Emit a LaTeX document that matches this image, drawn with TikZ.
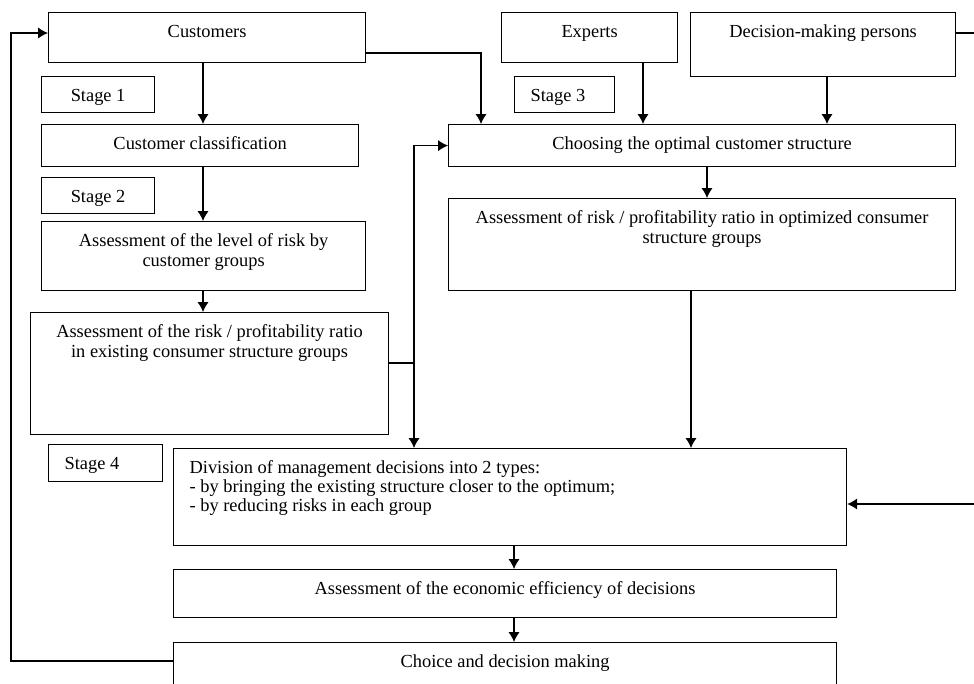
\documentclass[tikz,border=0pt]{standalone}
\usepackage{fontspec}
\setmainfont{Liberation Serif}
\usetikzlibrary{arrows.meta}
\tikzset{>={Latex[width=8.5pt,length=7.5pt]}}
\newlength{\pxu}
\setlength{\pxu}{0.75pt}
\newcommand{\boxtext}[4][\centering]{\parbox[t][#3\pxu][t]{#2\pxu}{#1\rule{0pt}{19pt}#4}}

\begin{document}
\begin{tikzpicture}[
    x = 0.75pt, y = -0.75pt,
    line width = 0.9pt,
    font = \fontsize{13.8}{15}\selectfont,
    box/.style = {draw, inner sep=0pt, anchor=north west}
  ]
  \useasboundingbox (0,0) rectangle (974,683);
  \clip (0,0) rectangle (974,683);

  % stages 1 and 2
  \node[box] (cust) at (48,12) {\boxtext{317}{50}{Customers}};
  \node[box] (st1) at (41,76) {\boxtext{113}{36}{Stage 1}};
  \node[box] (class) at (41,124) {\boxtext{317}{42}{Customer classification}};
  \node[box] (st2) at (41,177) {\boxtext{113}{36}{Stage 2}};
  \node[box] (level) at (41,221) {\boxtext{324}{69}{Assessment of the level of risk by\\customer groups}};
  \node[box] (exist) at (30,312) {\boxtext{358}{122}{Assessment of the risk / profitability ratio\\in existing consumer structure groups}};

  % stage 3
  \node[box] (exp) at (501,12) {\boxtext{176}{50}{Experts}};
  \node[box] (dm) at (690,12) {\boxtext{265}{64}{Decision-making persons}};
  \node[box] (st3) at (514,76) {\boxtext[\raggedright\leftskip=12pt]{100}{36}{Stage 3}};
  \node[box] (choose) at (448,124) {\boxtext{507}{42}{Choosing the optimal customer structure}};
  \node[box] (opt) at (448,198) {\boxtext{507}{92}{Assessment of risk / profitability ratio in optimized consumer\\structure groups}};

  % stage 4
  \node[box] (st4) at (48,444) {\boxtext[\raggedright\leftskip=12pt]{114}{37}{Stage 4}};
  \node[box] (div) at (173,448) {\boxtext[\raggedright\leftskip=12pt\baselineskip=14.2pt]{673}{97}{Division of management decisions into 2 types:\\- by bringing the existing structure closer to the optimum;\\- by reducing risks in each group}};
  \node[box] (eff) at (173,569) {\boxtext{663}{48}{Assessment of the economic efficiency of decisions}};
  \node[box] (choice) at (173,642) {\boxtext{663}{70}{Choice and decision making}};

  % connectors
  \coordinate (a) at (203,0);
  \coordinate (e) at (643,0);
  \coordinate (d) at (827,0);
  \coordinate (o) at (707,0);
  \coordinate (p) at (691,0);
  \coordinate (m) at (514,0);
  \coordinate (c1) at (481,53);
  \coordinate (j) at (414,363);
  \coordinate (r1) at (995,33);
  \coordinate (r2) at (995,504);
  \coordinate (l1) at (11,33);
  \coordinate (l2) at (11,661);

  \draw[->] (a |- cust.south) -- (a |- class.north);
  \draw[->] (a |- class.south) -- (a |- level.north);
  \draw[->] (a |- level.south) -- (a |- exist.north);
  \draw[->] (cust.east |- c1) -- (c1) -- (c1 |- choose.north);
  \draw[->] (e |- exp.south) -- (e |- choose.north);
  \draw[->] (d |- dm.south) -- (d |- choose.north);
  \draw[->] (o |- choose.south) -- (o |- opt.north);
  \draw[->] (p |- opt.south) -- (p |- div.north);
  \draw (exist.east |- j) -- (j);
  \draw[->] (j) |- (choose.west);
  \draw[->] (j) -- (j |- div.north);
  \draw[->] (dm.east |- r1) -- (r1) -- (r2) -- (div.east |- r2);
  \draw[->] (m |- div.south) -- (m |- eff.north);
  \draw[->] (m |- eff.south) -- (m |- choice.north);
  \draw[->] (choice.west |- l2) -- (l2) -- (l1) -- (cust.west |- l1);
\end{tikzpicture}
\end{document}
